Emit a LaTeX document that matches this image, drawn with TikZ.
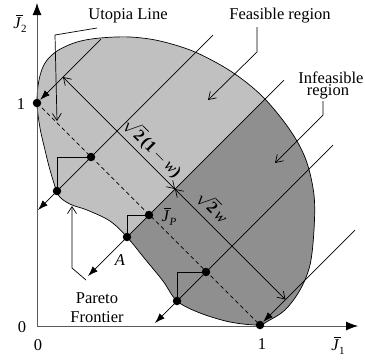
\documentclass[tikz,border=0pt]{standalone}
\usepackage{fontspec}
\setmainfont{Liberation Serif}
\usepackage{amsmath}
\usetikzlibrary{arrows.meta}
\definecolor{lgray}{RGB}{192,192,192}
\definecolor{dgray}{RGB}{143,143,143}
\definecolor{axgray}{RGB}{90,90,90}
\newcommand{\subsc}[1]{\raisebox{-0.45ex}{\fontsize{11}{12}\selectfont #1}}
\tikzset{
  lbl/.style={font=\fontsize{16.5}{19}\selectfont, inner sep=0pt},
  ln/.style={line width=0.7pt, black},
  barline/.style={line width=0.9pt, black},
  fa/.style={-{Latex[length=10pt,width=7pt]}},
  oa/.style={-{Straight Barb[length=7pt,width=9pt]}},
  boa/.style={{Straight Barb[length=7pt,width=9pt]}-{Straight Barb[length=7pt,width=9pt]}},
  dot/.style={circle,fill=black,inner sep=0pt,minimum size=8.5pt},
  axis/.style={line width=0.8pt, axgray, -{Latex[length=12pt,width=9pt,fill=black,color=black]}},
  dashedline/.style={line width=0.7pt, dash pattern=on 4pt off 3pt}
}
\begin{document}
\begin{tikzpicture}[x=1pt,y=-1pt]
\useasboundingbox (0,0) rectangle (365,360);
% feasible region
\path[save path=\blobpath] plot[smooth cycle, tension=0.55] coordinates {
 (37,103) (39,80) (45,63) (57,51) (77,42) (100,38) (130,37) (160,41) (195,52)
 (232,72) (263,97) (290,130) (306,160) (314,195) (314,230) (310,265) (300,290)
 (285,310) (268,321) (258,325) (230,322) (200,313) (177,301) (163,281) (145,259)
 (127,237) (110,221) (87,210) (72,205) (62,199) (57,192) (50,170) (45,150) (40,128)};
\fill[lgray, use path=\blobpath];
\begin{scope}
  \clip[use path=\blobpath];
  \fill[dgray] (364,0) -- (0,364) -- (420,420) -- (420,0) -- cycle;
\end{scope}
\draw[ln, use path=\blobpath];

% axes
\coordinate (O) at (37,326);
\coordinate (Ytip) at (37,3);
\coordinate (Xtip) at (358,326);
\draw[axis] (O) -- (Ytip);
\draw[axis] (O) -- (Xtip);

% key points
\coordinate (P01) at (37,103);
\coordinate (P10) at (260,325);
\coordinate (Q1) at (57,191);
\coordinate (U1) at (91,157);
\coordinate (A) at (127,237);
\coordinate (Jp) at (149,215);
\coordinate (Q3) at (177,301);
\coordinate (U3) at (206,272);

% utopia line
\draw[dashedline] (P01) -- (P10);

% normal lines
\coordinate (L0t) at (101,39);
\coordinate (L1t) at (213,35);
\coordinate (L1b) at (38,210);
\coordinate (L2t) at (284,80);
\coordinate (L2b) at (88,276);
\coordinate (L3t) at (333,145);
\coordinate (L3b) at (155,323);
\coordinate (L4t) at (355,230);

\node[dot] (d01) at (P01) {};
\node[dot] (d10) at (P10) {};
\node[dot] (dQ1) at (Q1) {};
\node[dot] (dU1) at (U1) {};
\node[dot] (dA) at (A) {};
\node[dot] (dJp) at (Jp) {};
\node[dot] (dQ3) at (Q3) {};
\node[dot] (dU3) at (U3) {};

\draw[ln, fa] (L0t) -- (d01);
\draw[ln, fa] (L1t) -- (L1b);
\draw[ln, fa] (L2t) -- (L2b);
\draw[ln, fa] (L3t) -- (L3b);
\draw[ln, fa] (L4t) -- (d10);

% right-angle markers
\draw[ln] (U1) -| (Q1);
\draw[ln] (Jp) -| (A);
\draw[ln] (U3) -| (Q3);

% distance arrows
\coordinate (D0) at (63,77);
\coordinate (D2) at (175,189);
\coordinate (D4) at (285.5,299.5);
\draw[ln, boa] (D0) -- (D2);
\draw[ln, boa] (D2) -- (D4);
\node[lbl, rotate=-45] (lw1) at (153,148) {$\sqrt{\textbf{2}}$\,\textbf{(1}\,$-$\,\textit{w}\textbf{)}};
\node[lbl, rotate=-45] (lw2) at (213,207) {$\sqrt{\textbf{2}}$\,\textit{w}};

% labels
\node[lbl] (yl) at (20,25) {\textit{J}\subsc{2}};
\node[lbl] (xl) at (338,347) {\textit{J}\subsc{1}};
\node[lbl] (lJp) at (169,218) {\textit{J}\subsc{\itshape P}};
\draw[barline] ([xshift=2.5pt,yshift=2.5pt]yl.north west) -- ++(7,0);
\draw[barline] ([xshift=2.5pt,yshift=2.5pt]xl.north west) -- ++(7,0);
\draw[barline] ([xshift=2.5pt,yshift=2.5pt]lJp.north west) -- ++(7,0);
\node[lbl] (o1) at (22,327) {0};
\node[lbl] (o2) at (38,345) {0};
\node[lbl] (y1) at (21,104) {1};
\node[lbl] (x1) at (262,344) {1};
\node[lbl] (lA) at (120,260) {\textit{A}};

\node[lbl] (ut) at (128,16) {Utopia Line};
\coordinate (ut1) at (97,28);
\coordinate (ut2) at (55,35);
\coordinate (ut3) at (57,121);
\draw[ln, oa] (ut1) -- (ut2) -- (ut3);

\node[lbl] (fe) at (280,16) {Feasible region};
\coordinate (fe1) at (257,27);
\coordinate (fe2) at (257,52);
\coordinate (fe3) at (208,100);
\draw[ln, oa] (fe1) -- (fe2) -- (fe3);

\node[lbl] (inf1) at (331,78) {Infeasible};
\node[lbl] (inf2) at (328,92) {region};
\coordinate (in1) at (323,101);
\coordinate (in2) at (323,115);
\coordinate (in3) at (275,163);
\draw[ln, oa] (in1) -- (in2) -- (in3);

\node[lbl] (pa1) at (97,298) {Pareto};
\node[lbl] (pa2) at (97,317) {Frontier};
\coordinate (pf1) at (86,280);
\coordinate (pf2) at (72,268);
\coordinate (pf3) at (72,206);
\draw[ln, oa] (pf1) -- (pf2) -- (pf3);
\end{tikzpicture}
\end{document}
